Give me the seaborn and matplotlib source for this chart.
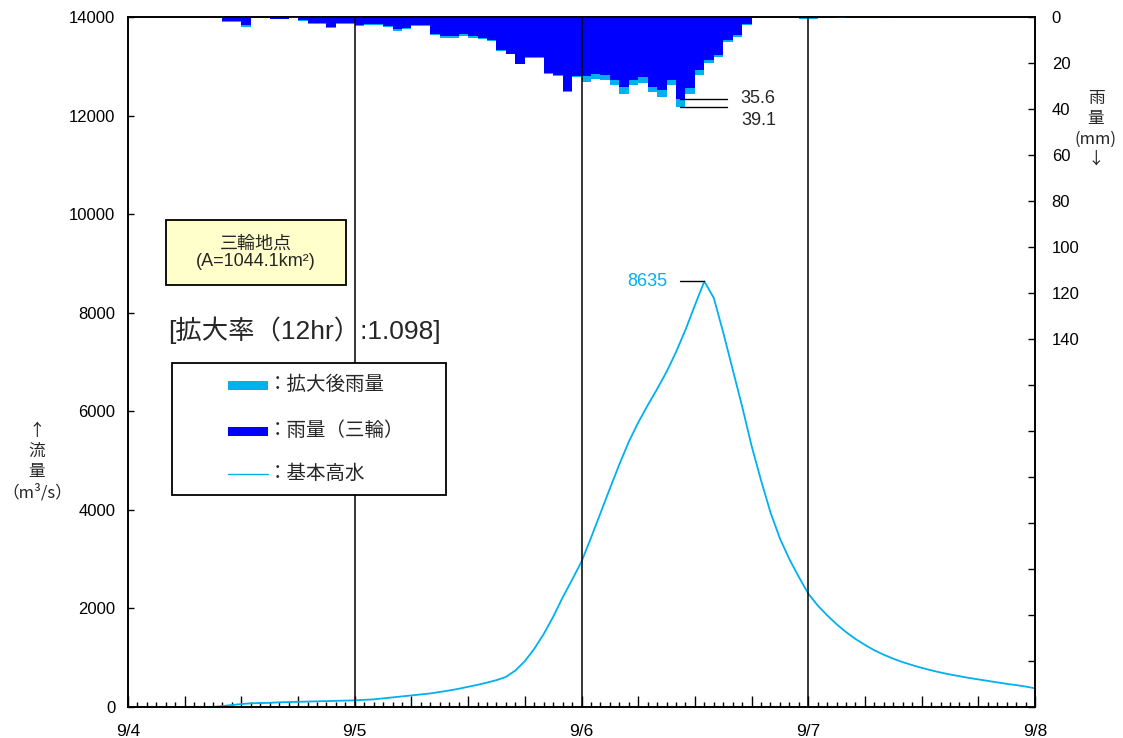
"""
Hydrograph + hyetograph (三輪地点, 基本高水) recreated with seaborn.
"""
import matplotlib
matplotlib.use("Agg")
import matplotlib.pyplot as plt
from matplotlib.patches import Rectangle
from matplotlib.lines import Line2D
import numpy as np
import pandas as pd
import seaborn as sns

# ---- data ----
DAY_LABELS = ["9/4", "9/5", "9/6", "9/7", "9/8"]

# discharge (m3/s), hourly from 9/4 09:00 to 9/8 00:00
FLOW_HOURS = list(range(9, 97))
FLOW = [
    0, 20, 40, 60, 75, 80, 85, 95, 100, 105,
    110, 115, 120, 125, 130, 135, 145, 155, 175, 195,
    215, 235, 255, 275, 305, 335, 370, 410, 450, 495,
    545, 610, 740, 930, 1180, 1480, 1830, 2220, 2580, 2950,
    3430, 3930, 4430, 4920, 5380, 5770, 6120, 6450, 6800, 7200,
    7650, 8150, 8635, 8300, 7600, 6850, 6100, 5300, 4600, 3950,
    3420, 3000, 2640, 2300, 2060, 1860, 1680, 1520, 1380, 1260,
    1150, 1060, 980, 910, 850, 795, 745, 700, 660, 625,
    590, 560, 530, 500, 470, 445, 415, 380,
]

# hourly rainfall (mm), 9/4 00:00 .. 9/7 23:00
RAIN_HOURS = list(range(96))
RAIN_OBS = [
    0, 0, 0, 0, 0, 0, 0, 0, 0, 0,
    1.8, 1.8, 3.6, 0.3, 0.3, 0.7, 0.7, 0.2, 1.4, 2.5,
    2.5, 4.3, 2.6, 2.6, 3.3, 3.2, 3.2, 3.9, 5.4, 4.8,
    3.6, 3.6, 7.2, 8.3, 8.3, 7.5, 8.3, 9.1, 10.0, 14.5,
    16.0, 20.3, 17.4, 17.4, 24.3, 25.4, 32.2, 25.7, 25.6, 24.6,
    25.4, 27.2, 30.4, 27.2, 26.1, 30.4, 31.9, 27.2, 35.6, 30.9,
    23.2, 18.8, 16.4, 10.1, 8.0, 2.9, 0, 0, 0, 0,
    0, 0.6, 0.6, 0, 0, 0.2, 0.5, 0.5, 0.5, 0.5,
    0.5, 0, 0, 0, 0, 0, 0, 0, 0, 0,
    0, 0, 0, 0, 0, 0,
]
RAIN_EXP = [
    0, 0, 0, 0, 0, 0, 0, 0, 0, 0,
    2.2, 2.2, 4.2, 0.4, 0.4, 0.8, 0.8, 0.3, 1.6, 2.9,
    2.9, 4.8, 3.0, 3.0, 3.8, 3.6, 3.6, 4.5, 6.1, 5.4,
    4.1, 4.1, 7.9, 9.0, 9.0, 8.2, 9.0, 9.6, 10.5, 14.8,
    16.3, 20.6, 17.7, 17.7, 24.6, 25.7, 32.5, 26.0, 28.3, 26.8,
    27.5, 29.7, 33.3, 29.7, 28.7, 32.6, 34.8, 29.7, 39.1, 33.5,
    25.0, 20.0, 17.5, 11.0, 8.7, 3.3, 0, 0, 0, 0,
    0, 0.8, 0.8, 0, 0, 0.4, 0.6, 0.6, 0.6, 0.6,
    0.6, 0, 0, 0, 0, 0, 0, 0, 0, 0,
    0, 0, 0, 0, 0, 0,
]

PEAK_FLOW = 8635
RAIN_MAX_OBS = 35.6
RAIN_MAX_EXP = 39.1
LEGEND_LABELS = ["：拡大後雨量", "：雨量（三輪）", "：基本高水"]
STATION_TEXT = "三輪地点\n(A=1044.1km²)"
RATIO_TEXT = "[拡大率（12hr）:1.098]"
RAIN_TITLE = "雨\n量\n(mm)\n↓"
FLOW_TITLE = "↑\n流\n量\n（m³/s）"

LIGHT = "#00B0F0"
DARK = "#0000FF"
W, H = 1123, 738
CJK = ["Noto Sans CJK JP", "DejaVu Sans"]


def fx(px):
    return px / W


def fy(py):
    return 1 - py / H


def main() -> None:
    sns.set_theme(style="white")
    plt.rcParams["font.family"] = ["Liberation Sans", "Noto Sans CJK JP"]

    fig = plt.figure(figsize=(W / 100, H / 100), dpi=100)
    ax = fig.add_axes([fx(128), fy(707), fx(1035) - fx(128), fy(17) - fy(707)])
    ax2 = ax.twinx()

    # discharge
    flow_df = pd.DataFrame({"hour": FLOW_HOURS, "flow": FLOW})
    sns.lineplot(data=flow_df, x="hour", y="flow", ax=ax, color=LIGHT, linewidth=1.3)

    # rainfall (inverted, right axis): weighted hourly histogram
    rain_df = pd.DataFrame({"hour": RAIN_HOURS, "obs": RAIN_OBS, "exp": RAIN_EXP})
    sns.histplot(data=rain_df, x="hour", weights="exp", binwidth=1, binrange=(0, 96),
                 ax=ax2, element="step", color=LIGHT, alpha=1, linewidth=0)
    sns.histplot(data=rain_df, x="hour", weights="obs", binwidth=1, binrange=(0, 96),
                 ax=ax2, element="step", color=DARK, alpha=1, linewidth=0)

    ax.set_xlim(0, 96)
    ax.set_ylim(0, 14000)
    ax2.set_ylim(300, 0)
    for a in (ax, ax2):
        a.set_xlabel("")
        a.set_ylabel("")
        for sp in a.spines.values():
            sp.set_visible(True)
            sp.set_color("black")
            sp.set_linewidth(1.2)

    # day separators
    for d in (24, 48, 72):
        ax2.axvline(d, color="black", linewidth=1.1, zorder=5)

    # ticks
    major = np.arange(0, 97, 6)
    ax.set_xticks(major)
    ax.set_xticklabels([DAY_LABELS[i // 24] if i % 24 == 0 else "" for i in major])
    ax.set_xticks(np.arange(0, 97, 1), minor=True)
    ax.tick_params(axis="x", which="major", direction="in", length=8, width=1,
                   pad=12, labelsize=12.5, bottom=True, colors="black")
    ax.tick_params(axis="x", which="minor", direction="in", length=3.5, width=1,
                   bottom=True, colors="black")
    ax.set_yticks(np.arange(0, 14001, 2000))
    ax.tick_params(axis="y", direction="in", length=4, width=1, pad=9,
                   labelsize=12, left=True, colors="black")
    rain_ticks = np.arange(0, 301, 20)
    ax2.set_yticks(rain_ticks)
    ax2.set_yticklabels([str(v) if v <= 140 else "" for v in rain_ticks])
    ax2.tick_params(axis="y", direction="in", length=5, width=1, pad=12,
                    labelsize=12, right=True, colors="black")

    # peak annotations
    ax.plot([58.4, 61.0], [PEAK_FLOW, PEAK_FLOW], color="black", linewidth=1)
    ax.text(57.1, PEAK_FLOW, f"{PEAK_FLOW}", ha="right", va="center",
            color=LIGHT, fontsize=13)
    ax2.plot([58.4, 63.4], [RAIN_MAX_OBS, RAIN_MAX_OBS], color="black", linewidth=1, zorder=6)
    ax2.plot([58.4, 63.4], [RAIN_MAX_EXP, RAIN_MAX_EXP], color="black", linewidth=1, zorder=6)
    ax2.text(64.8, RAIN_MAX_OBS, f"{RAIN_MAX_OBS}", ha="left", va="center", fontsize=13)
    ax2.text(64.9, 45.2, f"{RAIN_MAX_EXP}", ha="left", va="center", fontsize=13)

    # axis titles
    fig.text(fx(1096), fy(129), RAIN_TITLE, ha="center", va="center",
             fontsize=12, linespacing=1.25, family=CJK)
    fig.text(fx(37), fy(462), FLOW_TITLE, ha="center", va="center",
             fontsize=12, linespacing=1.25, family=CJK)

    # station box
    fig.add_artist(Rectangle((fx(166), fy(285)), fx(346) - fx(166), fy(220) - fy(285),
                             transform=fig.transFigure, facecolor="#FFFFCC",
                             edgecolor="black", linewidth=1.3))
    fig.text(fx(256), fy(253), STATION_TEXT, ha="center", va="center",
             fontsize=13, linespacing=1.05)

    fig.text(fx(168), fy(330), RATIO_TEXT, ha="left", va="center", fontsize=19)

    # legend box
    fig.add_artist(Rectangle((fx(172), fy(495)), fx(446) - fx(172), fy(363) - fy(495),
                             transform=fig.transFigure, facecolor="white",
                             edgecolor="black", linewidth=1.3))
    fig.add_artist(Rectangle((fx(228), fy(390)), fx(268) - fx(228), fy(381) - fy(390),
                             transform=fig.transFigure, facecolor=LIGHT, linewidth=0))
    fig.add_artist(Rectangle((fx(228), fy(436)), fx(268) - fx(228), fy(427) - fy(436),
                             transform=fig.transFigure, facecolor=DARK, linewidth=0))
    fig.add_artist(Line2D([fx(228), fx(268)], [fy(474), fy(474)],
                          transform=fig.transFigure, color=LIGHT, linewidth=1))
    for label, py in zip(LEGEND_LABELS, (385, 431, 474)):
        fig.text(fx(268), fy(py), label, ha="left", va="center", fontsize=14)

    fig.savefig("out.png", dpi=100)
    plt.close(fig)


if __name__ == "__main__":
    main()
